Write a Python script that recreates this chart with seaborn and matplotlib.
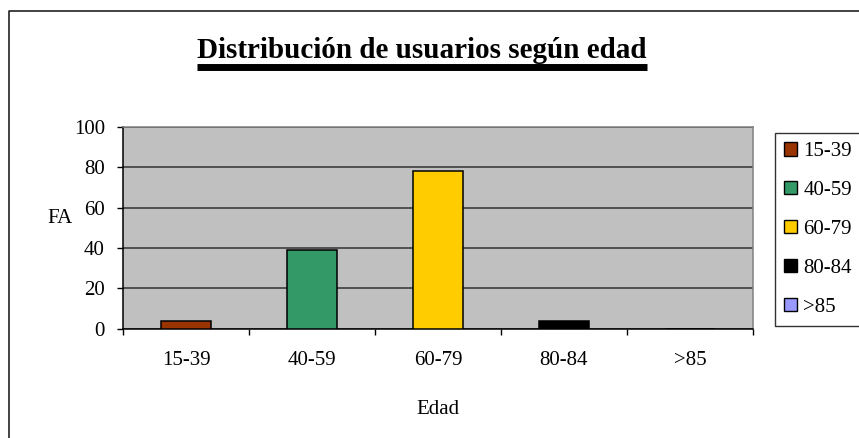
import matplotlib
matplotlib.use("Agg")
import matplotlib.pyplot as plt
from matplotlib.lines import Line2D
from matplotlib.patches import Patch
from matplotlib.ticker import FixedLocator
import seaborn as sns

# Data
edades = ["15-39", "40-59", "60-79", "80-84", ">85"]
frecuencia = [4, 39, 78, 4, 0]
colores = ["#993300", "#339966", "#FFCC00", "#000000", "#9999FF"]

sns.set_style("white")
plt.rcParams["font.family"] = ["Liberation Serif", "DejaVu Serif"]
plt.rcParams.update({"text.color": "black", "axes.labelcolor": "black",
                     "xtick.color": "black", "ytick.color": "black"})

W, H = 859, 438
fig = plt.figure(figsize=(W / 100, H / 100), dpi=100)
ax = fig.add_axes([123 / W, 1 - 328.7 / H, (753 - 123) / W, (328.7 - 126.7) / H])

sns.barplot(x=edades, y=frecuencia, hue=edades, palette=colores, width=0.4,
            saturation=1, edgecolor="black", linewidth=1.1, legend=False, ax=ax, zorder=3)

ax.set_facecolor("#C0C0C0")
ax.set_ylim(0, 100)
ax.set_xlim(-0.5, len(edades) - 0.5)
ax.set_yticks(range(0, 101, 20))
ax.yaxis.grid(True, color="#333333", linewidth=1.1, zorder=1)
ax.xaxis.grid(False)
ax.set_axisbelow(True)

for side in ["left", "bottom"]:
    ax.spines[side].set_color("black")
    ax.spines[side].set_linewidth(1.1)
for side in ["top", "right"]:
    ax.spines[side].set_color("#808080")
    ax.spines[side].set_linewidth(1.1)

# category ticks sit between the bars, like Excel
ax.xaxis.set_minor_locator(FixedLocator([i - 0.5 for i in range(len(edades) + 1)]))
ax.tick_params(axis="x", which="major", length=0, pad=16, labelsize=15)
ax.tick_params(axis="x", which="minor", length=4, width=1, color="black", direction="out", bottom=True)
ax.tick_params(axis="y", length=4, width=1, color="black", direction="out", left=True, pad=9, labelsize=15)

ax.set_xlabel("Edad", fontsize=15)
ax.set_ylabel("FA", fontsize=15, rotation=0)
ax.xaxis.set_label_coords(0.5, -0.355)
ax.yaxis.set_label_coords(-0.1, 0.5)

# title with a thick underline
titulo = fig.text(422 / W, 1 - 58 / H, "Distribución de usuarios según edad",
                  ha="center", va="baseline", fontsize=21, fontweight="bold", color="black")
fig.canvas.draw()
bb = titulo.get_window_extent().transformed(fig.transFigure.inverted())
fig.add_artist(Line2D([bb.x0, bb.x1], [1 - 66.5 / H, 1 - 66.5 / H],
                      color="black", linewidth=5, solid_capstyle="butt",
                      transform=fig.transFigure))

# outer chart frame (left and top edges visible)
fig.add_artist(Line2D([9 / W, 9 / W, 1.01], [-0.01, 1 - 11 / H, 1 - 11 / H],
                      color="#222222", linewidth=1.2, transform=fig.transFigure))

handles = [Patch(facecolor=c, edgecolor="black", linewidth=1) for c in colores]
leg = fig.legend(handles, edades, loc="upper left", bbox_to_anchor=(775 / W, 1 - 133 / H),
                 fontsize=15, frameon=True, fancybox=False, edgecolor="black",
                 handlelength=0.6, handleheight=0.6, handletextpad=0.3,
                 labelspacing=0.95, borderpad=0.45, borderaxespad=0)
leg.get_frame().set_linewidth(1)

fig.savefig("out.png", dpi=100)
